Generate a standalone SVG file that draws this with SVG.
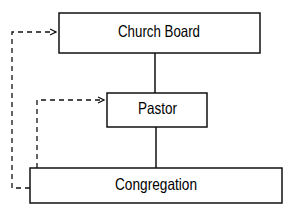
<svg xmlns="http://www.w3.org/2000/svg" width="296" height="218" viewBox="0 0 296 218">
<style>
.box{fill:#fff;stroke:#111;stroke-width:1.5}
.t{font-family:"Liberation Sans",Arial,sans-serif;font-size:16.5px;fill:#000;text-anchor:middle}
.ln{stroke:#111;stroke-width:1.5;fill:none}
.dash{stroke:#111;stroke-width:1.3;fill:none;stroke-dasharray:5,4}
</style>
<defs>
<marker id="ah" markerWidth="8" markerHeight="8" refX="7" refY="4" orient="auto" markerUnits="userSpaceOnUse">
<path d="M1,1 L7,4 L1,7" fill="none" stroke="#111" stroke-width="1.2"/>
</marker>
</defs>
<rect width="296" height="218" fill="#fff"/>
<g id="connectors">
<line class="ln" x1="155" y1="53" x2="155" y2="93"/>
<line class="ln" x1="156" y1="127" x2="156" y2="168"/>
<path class="dash" d="M30,188 H12 V32 H56" marker-end="url(#ah)"/>
<path class="dash" d="M37,168 V100 H104" marker-end="url(#ah)"/>
</g>
<g id="board">
<rect class="box" x="59" y="13" width="201" height="40"/>
<text class="t" x="159" y="37" textLength="82" lengthAdjust="spacingAndGlyphs">Church Board</text>
</g>
<g id="pastor">
<rect class="box" x="107" y="93" width="100" height="34"/>
<text class="t" x="157.5" y="114" textLength="39" lengthAdjust="spacingAndGlyphs">Pastor</text>
</g>
<g id="congregation">
<rect class="box" x="30" y="168" width="252" height="35"/>
<text class="t" x="156" y="190" textLength="82" lengthAdjust="spacingAndGlyphs">Congregation</text>
</g>
</svg>
